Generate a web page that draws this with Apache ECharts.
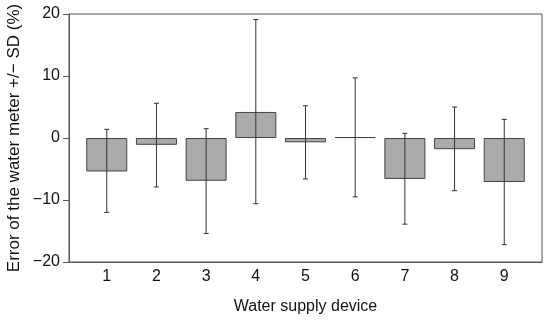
<!DOCTYPE html>
<html>
<head>
<meta charset="utf-8">
<script src="https://cdn.jsdelivr.net/npm/echarts@6/dist/echarts.min.js"></script>
<style>html,body{margin:0;padding:0;background:#fff}#c{width:550px;height:321px}</style>
</head>
<body>
<div id="c"></div>
<script>
const devices = [1, 2, 3, 4, 5, 6, 7, 8, 9];
const meanError = [-5.4, -1.1, -6.9, 4.2, -0.7, 0.15, -6.6, -1.8, -7.1];
const errUpper = [1.4, 5.6, 1.5, 19.1, 5.2, 9.7, 0.75, 5.0, 3.0];
const errLower = [-12.0, -7.9, -15.4, -10.6, -6.6, -9.5, -13.9, -8.5, -17.2];
const yTitle = 'Error of the water meter +/\u2212 SD (%)';
const xTitle = 'Water supply device';

const chart = echarts.init(document.getElementById('c'), null, {renderer: 'canvas'});
const font = 'Liberation Sans, Arial, sans-serif';
chart.setOption({
  animation: false,
  grid: {left: 69, right: 8, top: 14, bottom: 59, show: true, borderColor: '#555', borderWidth: 1,
    backgroundColor: 'transparent', containLabel: false, outerBoundsMode: 'none'},
  graphic: [{
    type: 'text', x: 14, y: 138, rotation: Math.PI / 2,
    style: {text: yTitle, font: '17px ' + font, fill: '#111', align: 'center', verticalAlign: 'middle'}
  }],
  xAxis: {
    type: 'value', min: 0.24, max: 9.76,
    name: xTitle, nameLocation: 'middle', nameGap: 37,
    nameTextStyle: {fontFamily: font, fontSize: 16, color: '#111'},
    axisLine: {show: true, onZero: false, lineStyle: {color: '#555', width: 1}},
    axisTick: {show: false},
    splitLine: {show: false},
    axisLabel: {customValues: devices, fontFamily: font, fontSize: 16, color: '#111', margin: 7}
  },
  yAxis: {
    type: 'value', min: -20, max: 20, interval: 10,
    axisLine: {show: true, lineStyle: {color: '#555', width: 1}},
    axisTick: {show: true, length: 6, lineStyle: {color: '#555'}},
    splitLine: {show: false},
    axisLabel: {fontFamily: font, fontSize: 16, color: '#111', margin: 9,
      formatter: v => v < 0 ? '\u2212' + Math.abs(v) : String(v)}
  },
  series: [
    {
      type: 'bar', barWidth: 41,
      data: devices.map((d, i) => [d, meanError[i]]),
      itemStyle: {color: '#aaaaaa', borderColor: '#444', borderWidth: 1}
    },
    {
      type: 'custom',
      data: devices.map((d, i) => [d, errLower[i], errUpper[i]]),
      renderItem: function (params, api) {
        const x = api.value(0);
        const lo = api.coord([x, api.value(1)]);
        const hi = api.coord([x, api.value(2)]);
        const cw = 2.5;
        const st = {stroke: '#333', lineWidth: 1, fill: null};
        return {type: 'group', children: [
          {type: 'line', shape: {x1: lo[0], y1: lo[1], x2: hi[0], y2: hi[1]}, style: st},
          {type: 'line', shape: {x1: lo[0]-cw, y1: lo[1], x2: lo[0]+cw, y2: lo[1]}, style: st},
          {type: 'line', shape: {x1: hi[0]-cw, y1: hi[1], x2: hi[0]+cw, y2: hi[1]}, style: st}
        ]};
      },
      z: 10
    }
  ]
});
</script>
</body>
</html>
